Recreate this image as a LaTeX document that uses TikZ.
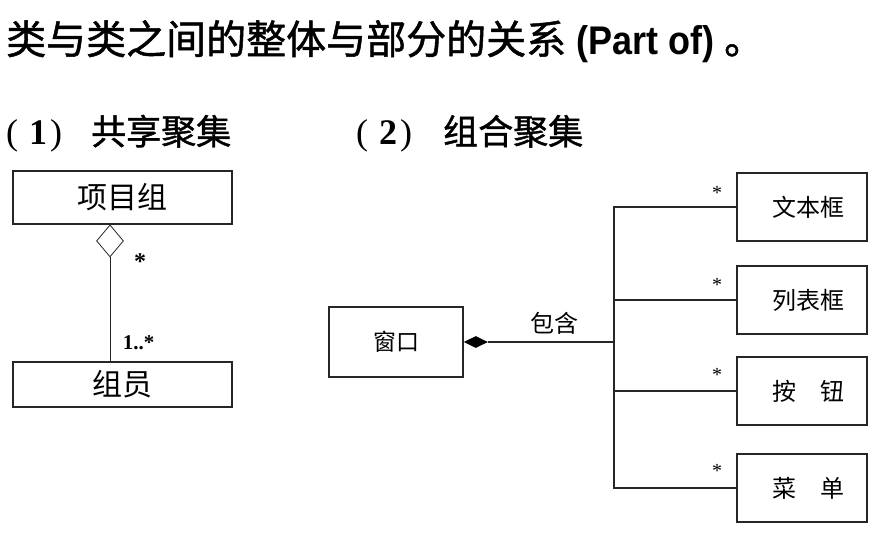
\documentclass[tikz,border=0pt]{standalone}
\usepackage{fontspec}
\setmainfont{Liberation Serif}
\newfontfamily\cjk{Noto Sans CJK SC}
\newfontfamily\cjkm[FakeBold=1.2]{Noto Sans CJK SC}
\newfontfamily\arialf{Liberation Sans}
\usetikzlibrary{shapes.geometric}
\begin{document}
\begin{tikzpicture}[x=1pt,y=-1pt,
  lbox/.style={draw=black!85,line width=1.2pt,inner sep=0pt,minimum width=219pt,font=\cjk\fontsize{30}{32}\selectfont},
  wbox/.style={draw=black!85,line width=1.3pt,inner sep=0pt,font=\cjk\fontsize{23}{25}\selectfont},
  rbox/.style={draw=black!85,line width=1.3pt,inner sep=0pt,minimum width=130pt,minimum height=68pt,font=\cjk\fontsize{24}{26}\selectfont},
  conn/.style={draw=black!85,line width=1.1pt},
  smallstar/.style={inner sep=0pt,font=\fontsize{20}{20}\selectfont},
  plain/.style={inner sep=0pt}]
\useasboundingbox (0,0) rectangle (881,536);
% title
\node[plain,anchor=base west] (title) at (6,54) {\cjkm\fontsize{40}{44}\selectfont 类与类之间的整体与部分的关系\hspace{10pt}{\arialf\bfseries\scalebox{0.9}[1]{(Part of)}}\hspace{10pt}。};
% subtitles
\node[plain,anchor=base west] (sub1) at (6,144.5) {\fontsize{36}{38}\selectfont (\hspace{11pt}\textbf{1}\hspace{3pt})\hspace{29pt}{\cjkm\fontsize{35}{38}\selectfont 共享聚集}};
\node[plain,anchor=base west] (sub2) at (356,144.5) {\fontsize{36}{38}\selectfont (\hspace{11pt}\textbf{2}\hspace{3pt})\hspace{31pt}{\cjkm\fontsize{35}{38}\selectfont 组合聚集}};
% (1) shared aggregation
\node[lbox,minimum height=53pt] (pg) at (122.5,197.5) {项目组};
\node[lbox,minimum height=45pt] (cy) at (122.5,384.5) {组员};
\node[draw=black!85,line width=0.8pt,fill=white,diamond,minimum width=27pt,minimum height=32pt,inner sep=0pt,anchor=north] (dia) at (110,224.5) {};
\draw[conn,line width=0.9pt] (dia.south) -- (dia.south |- cy.north);
\node[plain,font=\bfseries\fontsize{24}{24}\selectfont] (m1) at (140,262) {*};
\node[plain,font=\bfseries\fontsize{21}{21}\selectfont] (m2) at (138.5,342.5) {1..*};
% (2) composition
\node[wbox,minimum width=134pt,minimum height=70pt] (win) at (396,342) {窗口};
\node[fill=black,diamond,minimum width=24pt,minimum height=12pt,inner sep=0pt,anchor=west] (fd) at (win.east) {};
\coordinate (j) at (614,342);
\draw[conn] (fd.east) -- (j);
\node[plain,font=\cjk\fontsize{24}{26}\selectfont] (lab) at (554,323) {包含};
\node[rbox] (t1) at (802,207) {\hspace{12pt}文本框};
\node[rbox] (t2) at (802,300) {\hspace{12pt}列表框};
\node[rbox] (t3) at (802,391) {\hspace{12pt}按　钮};
\node[rbox] (t4) at (802,488) {\hspace{12pt}菜　单};
\draw[conn] (t1.west) -| (j);
\draw[conn] (t2.west) -| (j);
\draw[conn] (t3.west) -| (j);
\draw[conn] (t4.west) -| (j);
\node[smallstar] (s1) at (717,192.5) {*};
\node[smallstar] (s2) at (717,285) {*};
\node[smallstar] (s3) at (717,375) {*};
\node[smallstar] (s4) at (717,471) {*};
\end{tikzpicture}
\end{document}
